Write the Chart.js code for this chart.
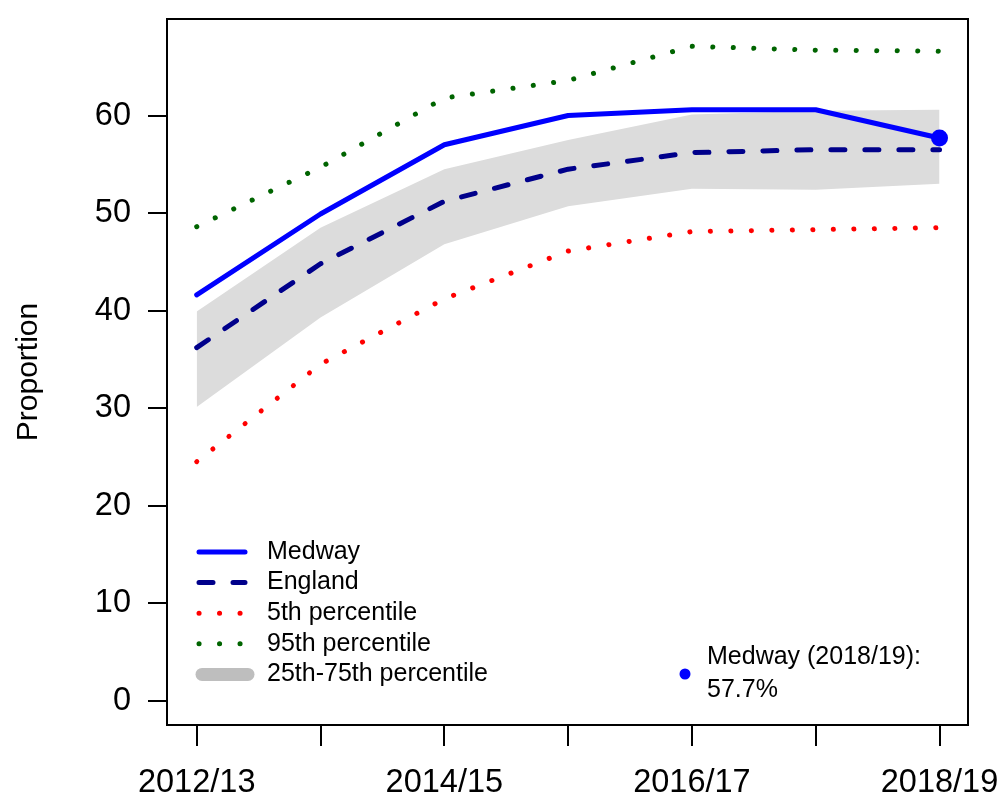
<!DOCTYPE html>
<html>
<head>
<meta charset="utf-8">
<title>Medway - Proportion</title>
<script src="https://cdn.jsdelivr.net/npm/chart.js@4.4.1/dist/chart.umd.min.js"></script>
<style>
    html, body { margin: 0; padding: 0; background: #fff; }
    #wrap { width: 998px; height: 797px; position: relative; }
</style>
</head>
<body>
<div id="wrap"><canvas id="propChart"></canvas></div>
<script>
// valori
const years = ['2012/13', '2013/14', '2014/15', '2015/16', '2016/17', '2017/18', '2018/19'];
const medway = [41.6, 49.9, 57.0, 60.0, 60.6, 60.6, 57.7];
const england = [36.2, 44.8, 51.2, 54.5, 56.2, 56.5, 56.5];
const p5 = [24.5, 34.5, 41.2, 46.1, 48.1, 48.3, 48.5];
const p95 = [48.6, 54.7, 61.8, 63.6, 67.1, 66.7, 66.6];
const p25 = [30.1, 39.3, 46.8, 50.7, 52.5, 52.4, 53.0];
const p75 = [39.9, 48.5, 54.5, 57.5, 60.1, 60.5, 60.6];
const yTicks = [0, 10, 20, 30, 40, 50, 60];

const FONT = '"Liberation Sans", Arial, Helvetica, sans-serif';
const BLUE = '#0000FF', NAVY = '#00008B', RED = '#FF0000', GREEN = '#006400';
const BAND = '#DCDCDC', BAND_KEY = '#BEBEBE';
const DOTS = [0.1, 20.4];

function toPoints(arr) { return arr.map((v, i) => ({ x: i, y: v })); }

// box + legenda + etichetta Medway
const boxPlugin = {
    id: 'boxPlugin',
    afterDraw(chart) {
        const ctx = chart.ctx;
        const a = chart.chartArea;
        ctx.save();
        ctx.strokeStyle = '#000';
        ctx.lineWidth = 2;
        ctx.strokeRect(a.left, a.top, a.right - a.left, a.bottom - a.top);

        const keys = [
            { label: 'Medway', color: BLUE, width: 5, dash: [] },
            { label: 'England', color: NAVY, width: 5, dash: [14, 20] },
            { label: '5th percentile', color: RED, width: 5, dash: DOTS },
            { label: '95th percentile', color: GREEN, width: 5, dash: DOTS },
            { label: '25th-75th percentile', color: BAND_KEY, width: 13, dash: [] }
        ];
        const x0 = a.left + 33, x1 = a.left + 78;
        let y = a.top + 533;
        ctx.font = '25px ' + FONT;
        ctx.textBaseline = 'middle';
        ctx.lineCap = 'round';
        keys.forEach(k => {
            ctx.beginPath();
            ctx.setLineDash(k.dash);
            ctx.strokeStyle = k.color;
            ctx.lineWidth = k.width;
            const pad = k.width > 10 ? 3 : 0;
            ctx.moveTo(x0 - 1 + pad, y);
            ctx.lineTo(x1 + pad, y);
            ctx.stroke();
            ctx.setLineDash([]);
            ctx.fillStyle = '#000';
            ctx.textAlign = 'left';
            ctx.fillText(k.label, a.left + 100, y);
            y += 30.6;
        });

        const last = medway.length - 1;
        ctx.beginPath();
        ctx.fillStyle = BLUE;
        ctx.arc(a.left + 518, a.top + 655, 5.5, 0, Math.PI * 2);
        ctx.fill();
        ctx.fillStyle = '#000';
        ctx.fillText('Medway (' + years[last] + '):', a.left + 540, a.top + 638);
        ctx.fillText(medway[last].toFixed(1) + '%', a.left + 540, a.top + 671);
        ctx.restore();
    }
};

function initChart() {
    Chart.defaults.font.family = FONT;
    Chart.defaults.color = '#000';
    const ctx = document.getElementById('propChart').getContext('2d');
    const lineBase = { pointRadius: 0, borderJoinStyle: 'round', borderCapStyle: 'round', tension: 0, fill: false };
    new Chart(ctx, {
        type: 'line',
        data: {
            datasets: [
                { ...lineBase, label: 'Medway', data: toPoints(medway), borderColor: BLUE, borderWidth: 5, order: 0,
                  pointRadius: medway.map((v, i) => i === medway.length - 1 ? 8.5 : 0), pointBackgroundColor: BLUE, pointBorderWidth: 0 },
                { ...lineBase, label: 'England', data: toPoints(england), borderColor: NAVY, borderWidth: 5, borderDash: [14, 20], order: 1 },
                { ...lineBase, label: '95th percentile', data: toPoints(p95), borderColor: GREEN, borderWidth: 5, borderDash: DOTS, order: 2 },
                { ...lineBase, label: '5th percentile', data: toPoints(p5), borderColor: RED, borderWidth: 5, borderDash: DOTS, order: 3 },
                { ...lineBase, label: '25th percentile', data: toPoints(p25), borderColor: 'rgba(0,0,0,0)', borderWidth: 1, order: 4 },
                { ...lineBase, label: '75th percentile', data: toPoints(p75), borderColor: 'rgba(0,0,0,0)', borderWidth: 1, order: 5,
                  fill: '-1', backgroundColor: BAND }
            ]
        },
        options: {
            responsive: true,
            maintainAspectRatio: false,
            animation: false,
            layout: { padding: { top: 19, right: 30, left: 0, bottom: 0 } },
            plugins: { legend: { display: false }, tooltip: { enabled: false } },
            scales: {
                x: {
                    type: 'linear', min: -0.24, max: 6.23,
                    afterBuildTicks: s => { s.ticks = years.map((y, i) => ({ value: i })); },
                    afterFit: s => { s.height = 72; s.paddingLeft = 0; s.paddingRight = 0; },
                    border: { display: false },
                    grid: { drawOnChartArea: false, drawTicks: true, tickLength: 21, color: '#000', lineWidth: 2 },
                    ticks: { autoSkip: false, maxRotation: 0, minRotation: 0, padding: 18, font: { size: 32.5 },
                             callback: v => (v % 2 === 0 ? years[v] : '') }
                },
                y: {
                    min: -2.5, max: 69.9,
                    afterBuildTicks: s => { s.ticks = yTicks.map(v => ({ value: v })); },
                    afterFit: s => { s.width = 167; s.paddingTop = 0; s.paddingBottom = 0; },
                    border: { display: false },
                    grid: { drawOnChartArea: false, drawTicks: true, tickLength: 19, color: '#000', lineWidth: 2 },
                    ticks: { padding: 17, font: { size: 32.5 } },
                    title: { display: true, text: 'Proportion', font: { size: 30 }, padding: { top: 11, bottom: 0 } }
                }
            }
        },
        plugins: [boxPlugin]
    });
}

window.onload = initChart;
</script>
</body>
</html>
